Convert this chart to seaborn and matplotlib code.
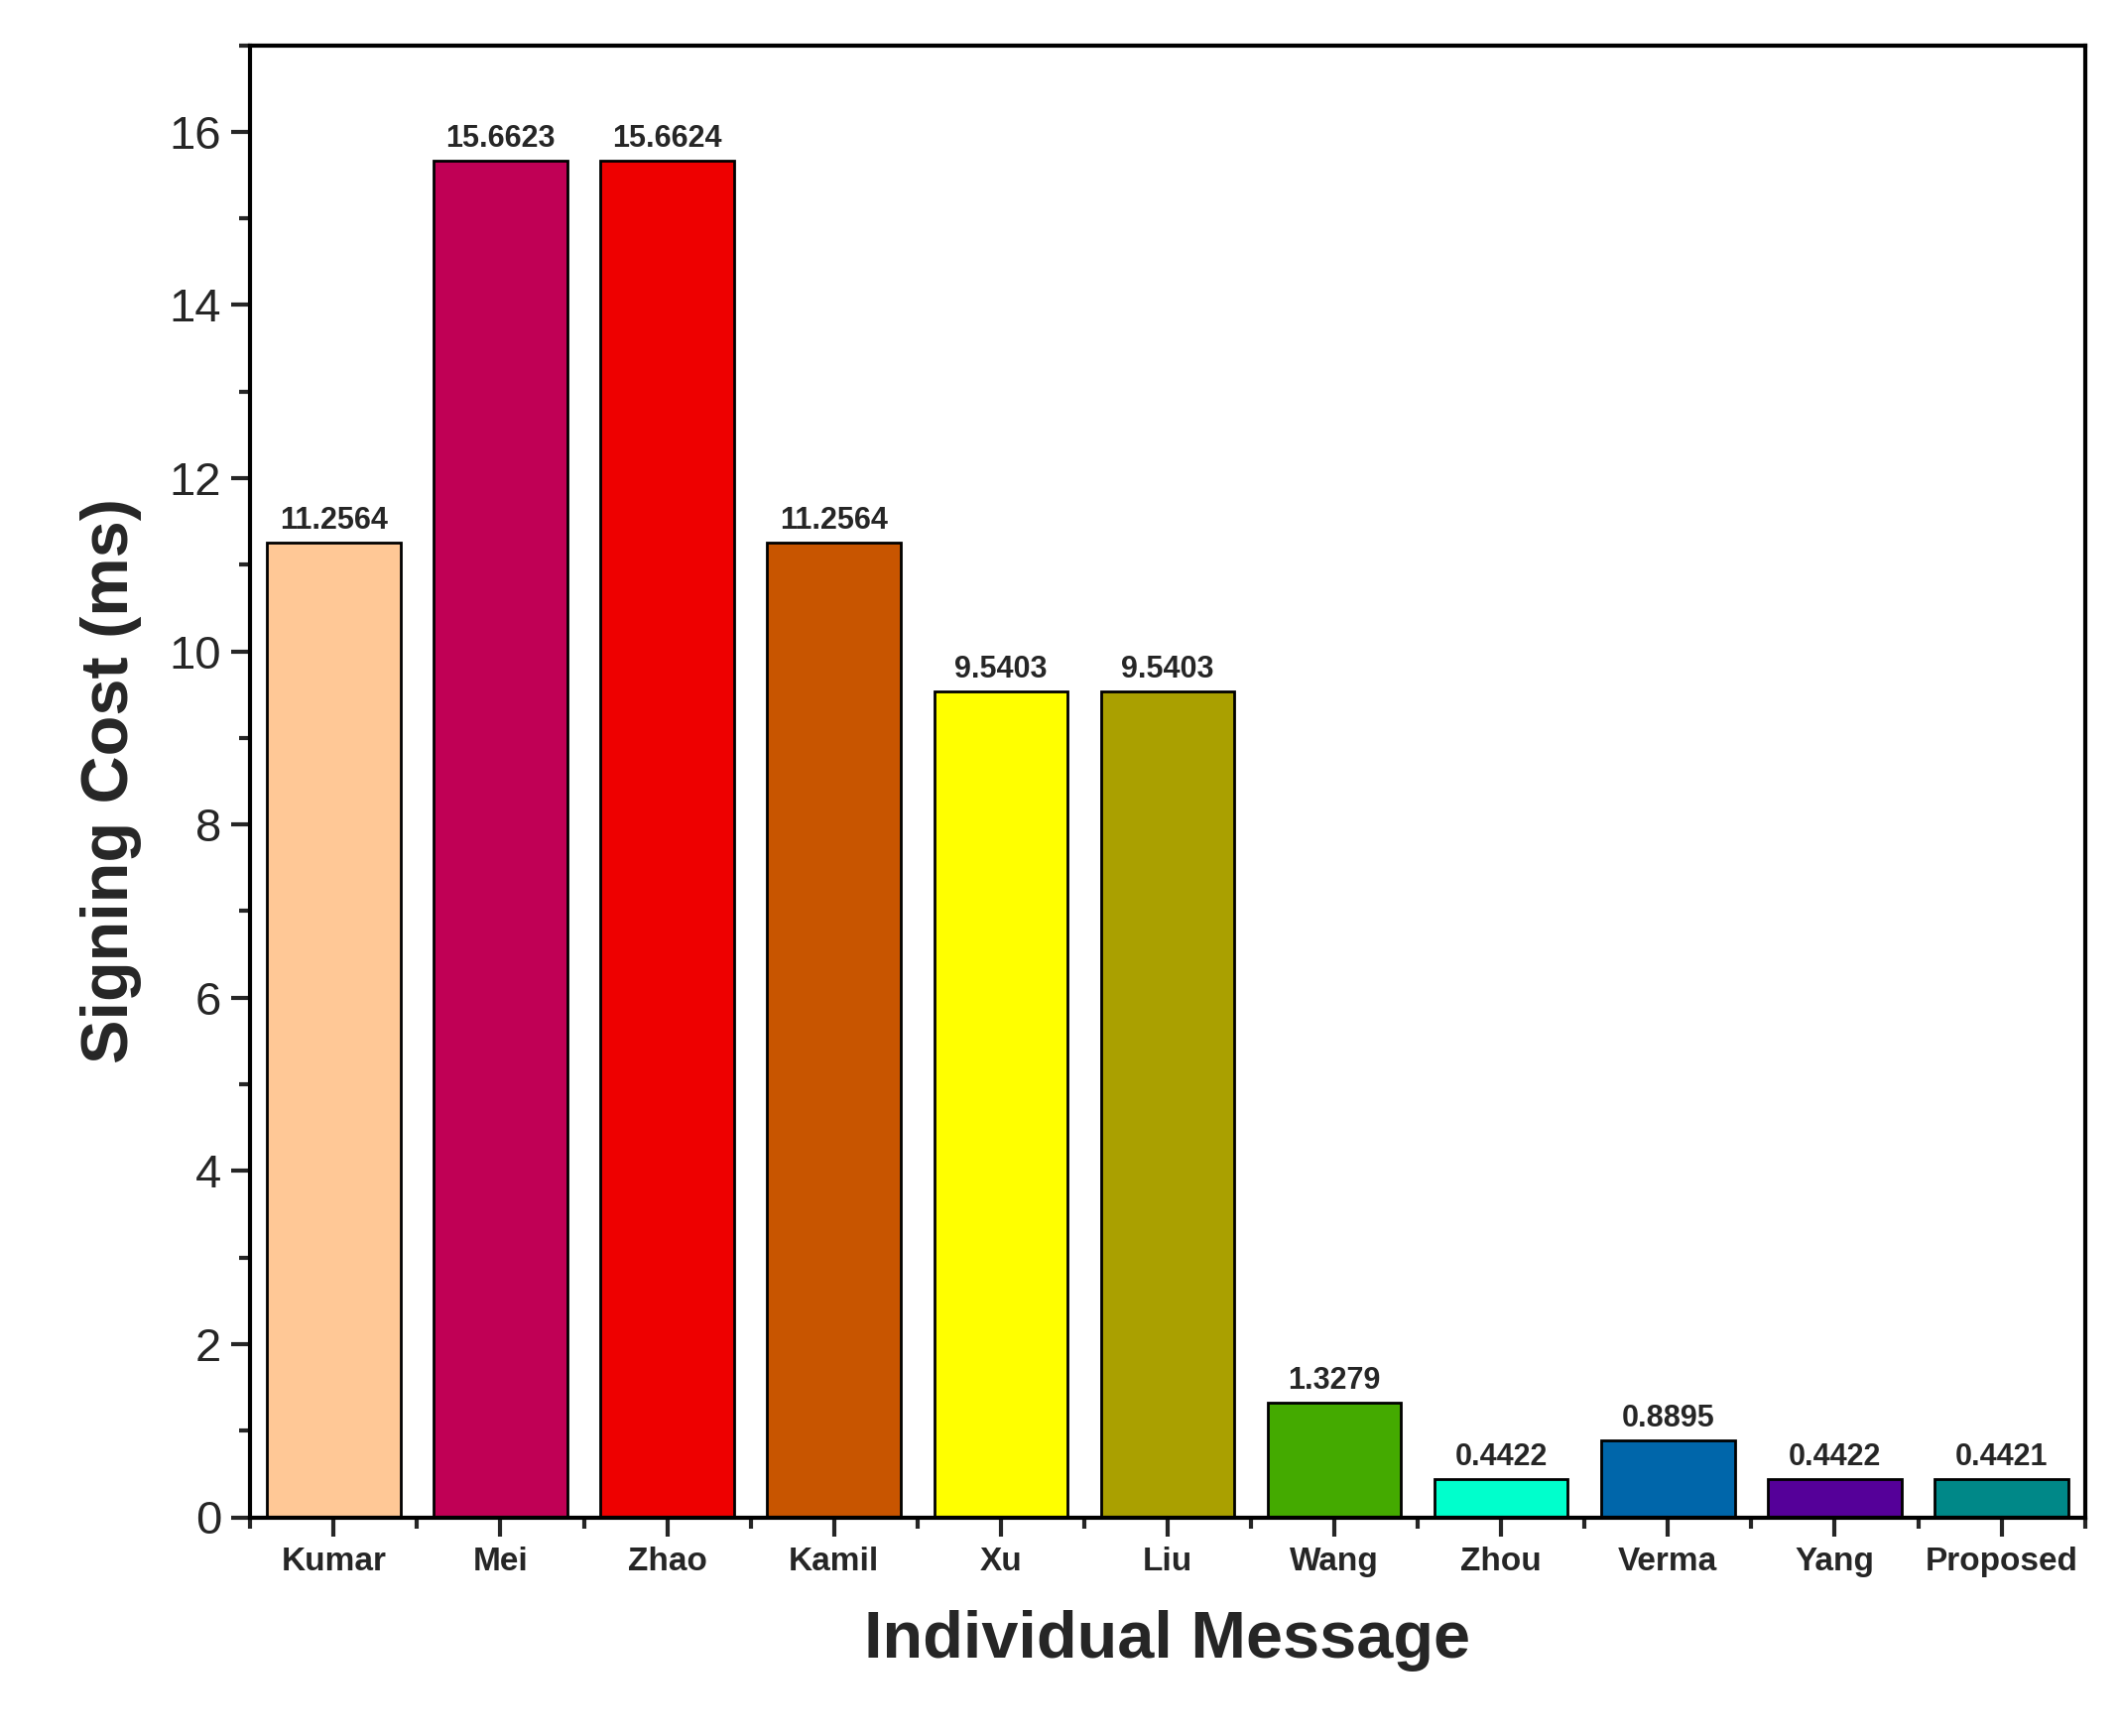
import matplotlib
matplotlib.use("Agg")
import matplotlib.pyplot as plt
import seaborn as sns
import pandas as pd
from matplotlib.ticker import MultipleLocator

schemes = ['Kumar', 'Mei', 'Zhao', 'Kamil', 'Xu', 'Liu', 'Wang', 'Zhou', 'Verma', 'Yang', 'Proposed']
cost = [11.2564, 15.6623, 15.6624, 11.2564, 9.5403, 9.5403, 1.3279, 0.4422, 0.8895, 0.4422, 0.4421]
labels = ['11.2564', '15.6623', '15.6624', '11.2564', '9.5403', '9.5403', '1.3279', '0.4422', '0.8895', '0.4422', '0.4421']
colors = ['#FFC896', '#C00055', '#EE0000', '#C85500', '#FFFF00', '#AAA000',
          '#44AA00', '#00FFCC', '#0066AA', '#550099', '#008888']

df = pd.DataFrame({'Scheme': schemes, 'Cost': cost})

sns.set_style('white')
plt.rcParams['font.family'] = ['Liberation Sans', 'DejaVu Sans']

fig = plt.figure(figsize=(10.69, 8.75), dpi=200)
ax = fig.add_axes([0.118, 0.126, 0.865, 0.848])
sns.barplot(data=df, x='Scheme', y='Cost', hue='Scheme', palette=colors, legend=False,
            width=0.8, edgecolor='black', linewidth=1.0, saturation=1, ax=ax)

for i, (v, t) in enumerate(zip(cost, labels)):
    ax.text(i, v + 0.08, t, ha='center', va='bottom', fontsize=11, fontweight='bold')

ax.set_xlim(-0.5, 10.5)
ax.set_ylim(0, 17)
ax.yaxis.set_major_locator(MultipleLocator(2))
ax.yaxis.set_minor_locator(MultipleLocator(1))
ax.xaxis.set_minor_locator(MultipleLocator(0.5))
ax.tick_params(axis='y', which='major', direction='out', length=7, width=1.5, labelsize=17, left=True)
ax.tick_params(axis='y', which='minor', direction='out', length=4, width=1.5, left=True)
ax.tick_params(axis='x', which='major', direction='out', length=7, width=1.5, labelsize=12, bottom=True)
ax.tick_params(axis='x', which='minor', direction='out', length=4, width=1.5, bottom=True)
for lab in ax.get_xticklabels():
    lab.set_fontweight('bold')
for s in ax.spines.values():
    s.set_linewidth(1.5)
    s.set_color('black')

ax.set_xlabel('Individual Message', fontsize=24, fontweight='bold', labelpad=12)
ax.set_ylabel('Signing Cost (ms)', fontsize=24, fontweight='bold', labelpad=10)

fig.savefig('out.png', dpi=200)
